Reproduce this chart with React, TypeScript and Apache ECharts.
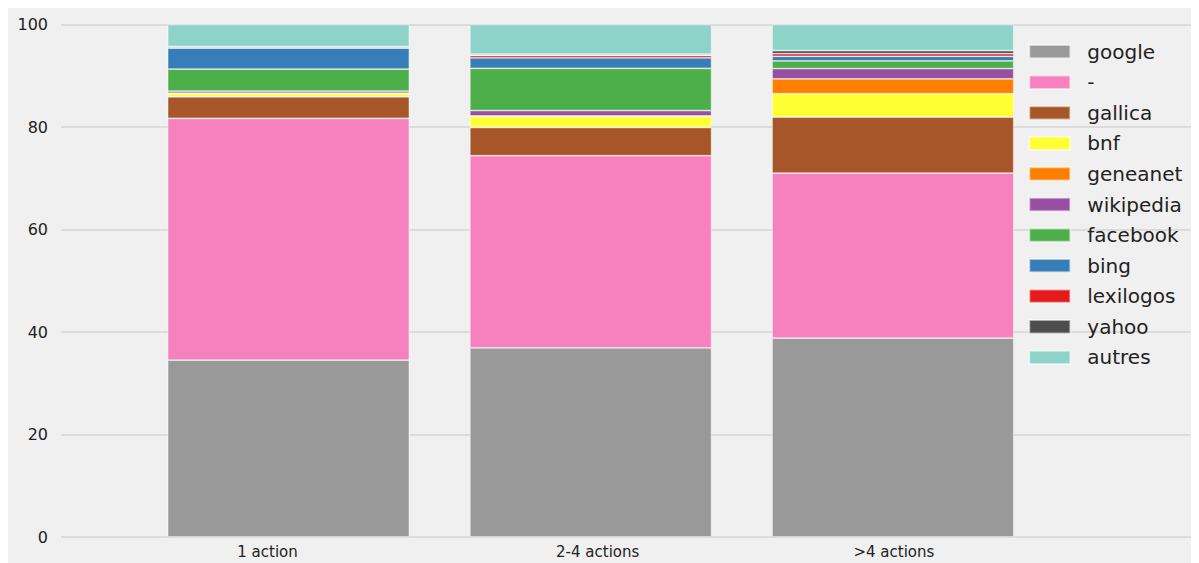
import React, { useEffect, useRef } from "react";
import * as echarts from "echarts";

const categories = ["1 action", "2-4 actions", ">4 actions"];
const sourceNames = ["google", "-", "gallica", "bnf", "geneanet", "wikipedia", "facebook", "bing", "lexilogos", "yahoo", "autres"];
const google = [34.5, 36.9, 38.8];
const dash = [47.2, 37.5, 32.2];
const gallica = [4.2, 5.5, 10.95];
const bnf = [0.6, 2.2, 4.55];
const geneanet = [0.1, 0.05, 2.9];
const wikipedia = [0.4, 1.05, 2.0];
const facebook = [4.3, 8.25, 1.5];
const bing = [4.1, 2.05, 0.9];
const lexilogos = [0.1, 0.45, 0.5];
const yahoo = [0.2, 0.25, 0.6];
const autres = [4.3, 5.8, 5.1];
const yTicks = [0, 20, 40, 60, 80, 100];

const seriesValues = [google, dash, gallica, bnf, geneanet, wikipedia, facebook, bing, lexilogos, yahoo, autres];
const colors = ["#999999", "#f781bf", "#a65628", "#ffff33", "#ff7f00", "#984ea3", "#4daf4a", "#377eb8", "#e41a1c", "#4d4d4d", "#8dd3c7"];
// horizontal shift of each category label relative to its bar centre (px)
const labelShift = [-21, 7, 1];

const FONT = "DejaVu Sans";

export default function App() {
  const ref = useRef<HTMLDivElement>(null);
  useEffect(() => {
    document.documentElement.style.overflow = "hidden";
    document.body.style.overflow = "hidden";
    if (!ref.current) return;
    const chart = echarts.init(ref.current, undefined, { renderer: "svg" });
    const catData = categories.map((c, i) => {
      const s = labelShift[i];
      return {
        value: c,
        textStyle: { padding: s < 0 ? [0, -2 * s, 0, 0] : [0, 0, 0, 2 * s] },
      };
    });
    chart.setOption({
      animation: false,
      backgroundColor: "#f0f0f0",
      textStyle: { fontFamily: FONT },
      grid: [
        { left: 53, right: 0, top: 16.5, bottom: 26 },
        { left: 129.4, width: 906.6, top: 16.5, bottom: 26 },
      ],
      xAxis: [
        { type: "value", gridIndex: 0, min: 0, max: 1, show: false },
        {
          type: "category",
          gridIndex: 1,
          data: catData,
          axisLine: { show: false },
          axisTick: { show: false },
          axisLabel: { fontFamily: FONT, fontSize: 15, color: "#222", margin: 7 },
        },
      ],
      yAxis: [
        {
          type: "value",
          gridIndex: 0,
          min: yTicks[0],
          max: yTicks[yTicks.length - 1],
          interval: 20,
          axisLine: { show: false },
          axisTick: { show: false },
          axisLabel: { fontFamily: FONT, fontSize: 16, color: "#222", margin: 13 },
          splitLine: { show: true, lineStyle: { color: "#d6d6d6", width: 1.5 } },
        },
        { type: "value", gridIndex: 1, min: 0, max: 100, show: false },
      ],
      legend: {
        orient: "vertical",
        left: 1020.3,
        top: 33.7,
        padding: 0,
        itemWidth: 41,
        itemHeight: 13.3,
        itemGap: 10.56,
        icon: "rect",
        data: sourceNames,
        textStyle: { fontFamily: FONT, fontSize: 20, color: "#222", lineHeight: 20, padding: [0, 0, 0, 12] },
      },
      series: sourceNames.map((name, i) => ({
        name,
        type: "bar",
        stack: "total",
        xAxisIndex: 1,
        yAxisIndex: 1,
        barWidth: "80%",
        data: seriesValues[i],
        itemStyle: { color: colors[i], borderColor: "rgba(255,255,255,0.55)", borderWidth: 0.8 },
        emphasis: { disabled: true },
      })),
    });
    return () => chart.dispose();
  }, []);
  return <div ref={ref} style={{ width: 1191, height: 555 }} />;
}
